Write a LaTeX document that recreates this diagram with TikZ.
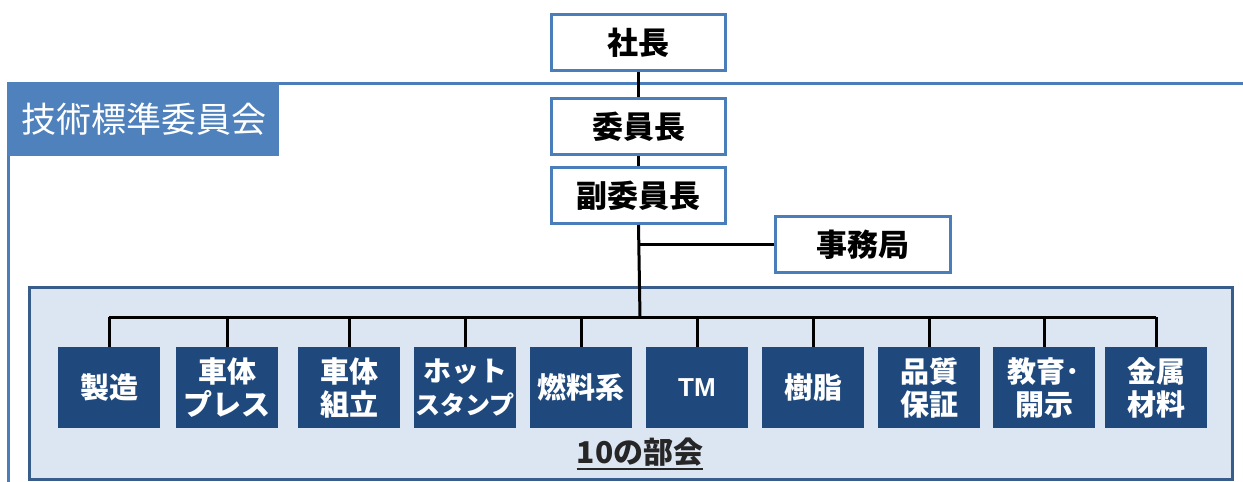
\documentclass[tikz,border=0pt]{standalone}
\usepackage{fontspec}
\newfontfamily\jp{Noto Sans CJK JP}
\newfontfamily\lib{Liberation Sans}
\definecolor{frameblue}{HTML}{4A7EBB}
\definecolor{titleblue}{HTML}{4F81BD}
\definecolor{panelfill}{HTML}{DCE6F2}
\definecolor{paneldraw}{HTML}{385D8A}
\definecolor{darkbox}{HTML}{1F497D}
\tikzset{
  topbox/.style={draw=frameblue, line width=3pt, fill=white, minimum width=174pt, minimum height=56pt, inner sep=0pt, font=\jp\bfseries\fontsize{31}{33}\selectfont},
  unitbox/.style={fill=darkbox, minimum width=102pt, minimum height=81pt, inner sep=0pt, text=white, align=center, font=\jp\bfseries\fontsize{29}{33}\selectfont},
  conn/.style={line width=3pt, black},
  frameline/.style={line width=3pt, frameblue},
}
\begin{document}
\begin{tikzpicture}[x=1pt,y=-1pt]
\useasboundingbox (0,0) rectangle (1243,482);
% outer frame
\draw[frameline] (8.5,482) -- (8.5,83.5) -- (1243,83.5);
\node[fill=titleblue, minimum width=272pt, minimum height=74pt, inner sep=0pt, anchor=north west] (title) at (7,82) {};
\node[anchor=west, text=white, inner sep=0pt, font=\jp\fontsize{35}{37}\selectfont] (titletext) at (21,119) {技術標準委員会};
% panel
\node[draw=paneldraw, fill=panelfill, line width=3pt, minimum width=1203pt, minimum height=192pt, inner sep=0pt, anchor=north west] (panel) at (27.5,285.5) {};
% top boxes
\node[topbox] (shacho) at (638.5,42.5) {社長};
\node[topbox] (iin) at (638.5,126.5) {委員長};
\node[topbox] (fuku) at (638.5,195.5) {副委員長};
\node[topbox, minimum width=175pt] (jimu) at (863,244.5) {事務局};
% unit boxes
\node[unitbox] (u1) at (109,387.5) {製造};
\node[unitbox] (u2) at (227,387.5) {車体\\プレス};
\node[unitbox] (u3) at (349,387.5) {車体\\組立};
\node[unitbox, font=\jp\bfseries\fontsize{25}{33}\selectfont] (u4) at (465,387.5) {{\fontsize{28}{33}\selectfont ホット}\\スタンプ};
\node[unitbox] (u5) at (581,387.5) {燃料系};
\node[unitbox, font=\lib\bfseries\fontsize{26}{28}\selectfont] (u6) at (697,387.5) {TM};
\node[unitbox] (u7) at (813,387.5) {樹脂};
\node[unitbox] (u8) at (929,387.5) {品質\\保証};
\node[unitbox] (u9) at (1044,387.5) {教育･\\開示};
\node[unitbox] (u10) at (1156,387.5) {金属\\材料};
\node[inner sep=0pt, anchor=base, font=\jp\bfseries\fontsize{30}{32}\selectfont, text=black!85] (bukai) at (640,463) {10の部会};
\draw[line width=1.5pt, black!85] ([yshift=-6pt]bukai.base west) -- ([yshift=-6pt]bukai.base east);
% connectors
\coordinate (bus) at (640,317);
\coordinate (jj) at (640,244.5);
\draw[conn] (shacho) -- (iin);
\draw[conn] (iin) -- (fuku);
\draw[conn] (fuku.south) -- (bus);
\draw[conn] (jj) -- (jimu.west);
\draw[conn] (u1.north |- bus) -- (u10.north |- bus);
\foreach \i in {1,...,10} {
  \draw[conn] (u\i.north |- bus) -- (u\i.north);
}
\end{tikzpicture}
\end{document}
